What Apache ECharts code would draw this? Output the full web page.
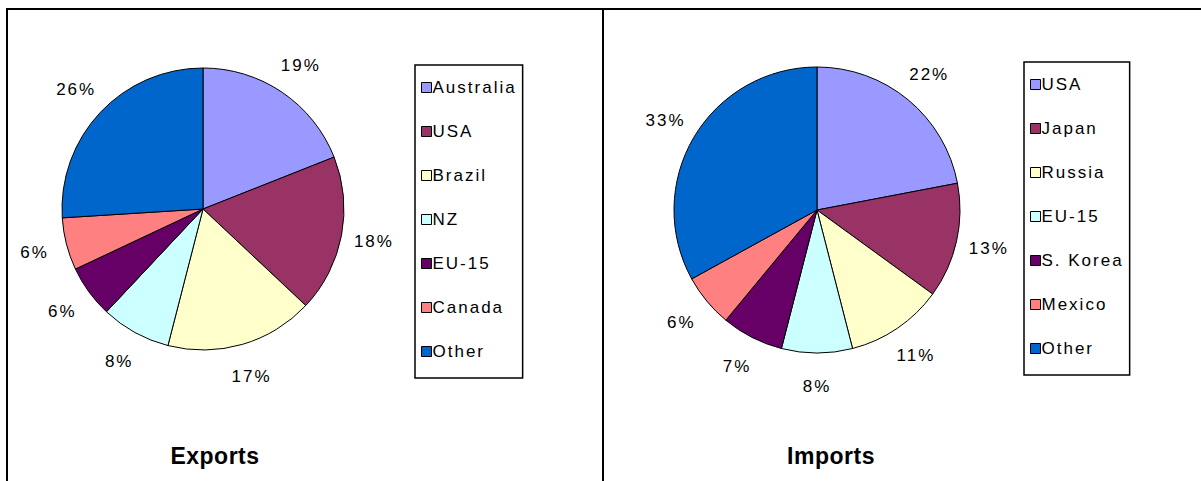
<!DOCTYPE html>
<html>
<head>
<meta charset="utf-8">
<script src="https://cdn.jsdelivr.net/npm/echarts@6/dist/echarts.min.js"></script>
<style>
html,body{margin:0;padding:0;background:#fff;}
#c{width:1201px;height:481px;}
#c text{letter-spacing:2px;}
#c text[style*="bold"]{letter-spacing:0.5px;}
</style>
</head>
<body>
<div id="c"></div>
<script>
// Data
const exportNames = ['Australia', 'USA', 'Brazil', 'NZ', 'EU-15', 'Canada', 'Other'];
const exportValues = [19, 18, 17, 8, 6, 6, 26];
const importNames = ['USA', 'Japan', 'Russia', 'EU-15', 'S. Korea', 'Mexico', 'Other'];
const importValues = [22, 13, 11, 8, 7, 6, 33];
const sliceColors = ['#9999FF', '#993366', '#FFFFCC', '#CCFFFF', '#660066', '#FF8080', '#0066CC'];
const titles = ['Exports', 'Imports'];

const FONT = '"Liberation Sans", Arial, sans-serif';
const START = 90;
const SPACING = 2;

function midAngle(values, idx) {
  const total = values.reduce((a, b) => a + b, 0);
  let cum = 0;
  for (let i = 0; i < idx; i++) cum += values[i];
  return (START - (cum + values[idx] / 2) / total * 360) * Math.PI / 180;
}

function makePie(names, values, center, radius) {
  const labelR = radius + 33;
  return {
    type: 'pie',
    center: center,
    radius: radius,
    startAngle: START,
    clockwise: true,
    avoidLabelOverlap: false,
    silent: true,
    data: names.map((n, i) => ({ name: n, value: values[i], itemStyle: { color: sliceColors[i] } })),
    itemStyle: { borderColor: '#000', borderWidth: 1 },
    label: {
      show: true,
      position: 'outside',
      formatter: '{c}%',
      color: '#000',
      fontFamily: FONT,
      fontSize: 17
    },
    labelLine: { show: false },
    labelLayout: function (p) {
      const a = midAngle(values, p.dataIndex);
      return {
        x: center[0] + labelR * Math.cos(a),
        y: center[1] - labelR * Math.sin(a),
        align: 'center',
        verticalAlign: 'middle'
      };
    }
  };
}

function makeLegend(names, left, top) {
  const maxChars = Math.max.apply(null, names.map(n => n.length));
  return {
    orient: 'vertical',
    left: left,
    top: top,
    icon: 'rect',
    itemWidth: 10,
    itemHeight: 10,
    itemGap: 27,
    padding: [14, 6 + maxChars * SPACING, 18, 6],
    borderColor: '#000',
    borderWidth: 1.5,
    backgroundColor: '#fff',
    selectedMode: false,
    data: names.map((n, i) => ({
      name: n,
      itemStyle: { color: sliceColors[i], borderColor: '#000', borderWidth: 1 }
    })),
    textStyle: {
      fontFamily: FONT,
      fontSize: 17,
      lineHeight: 17,
      color: '#000',
      padding: [0, 0, 0, -4]
    }
  };
}

const chart = echarts.init(document.getElementById('c'), null, { renderer: 'svg' });
chart.setOption({
  backgroundColor: '#fff',
  animation: false,
  title: [
    { text: titles[0], left: 210, top: 439, textAlign: 'center',
      textStyle: { fontFamily: FONT, fontSize: 23, fontWeight: 'bold', color: '#000' } },
    { text: titles[1], left: 826, top: 439, textAlign: 'center',
      textStyle: { fontFamily: FONT, fontSize: 23, fontWeight: 'bold', color: '#000' } }
  ],
  legend: [
    makeLegend(exportNames, 415, 65),
    makeLegend(importNames, 1024, 62)
  ],
  graphic: [
    { type: 'line', shape: { x1: 6, y1: 9, x2: 1201, y2: 9 }, style: { stroke: '#000', lineWidth: 2 } },
    { type: 'line', shape: { x1: 7, y1: 8, x2: 7, y2: 481 }, style: { stroke: '#000', lineWidth: 2 } },
    { type: 'line', shape: { x1: 603, y1: 8, x2: 603, y2: 481 }, style: { stroke: '#000', lineWidth: 2 } }
  ],
  series: [
    makePie(exportNames, exportValues, [203, 209], 141),
    makePie(importNames, importValues, [817, 210], 143)
  ]
});
</script>
</body>
</html>
